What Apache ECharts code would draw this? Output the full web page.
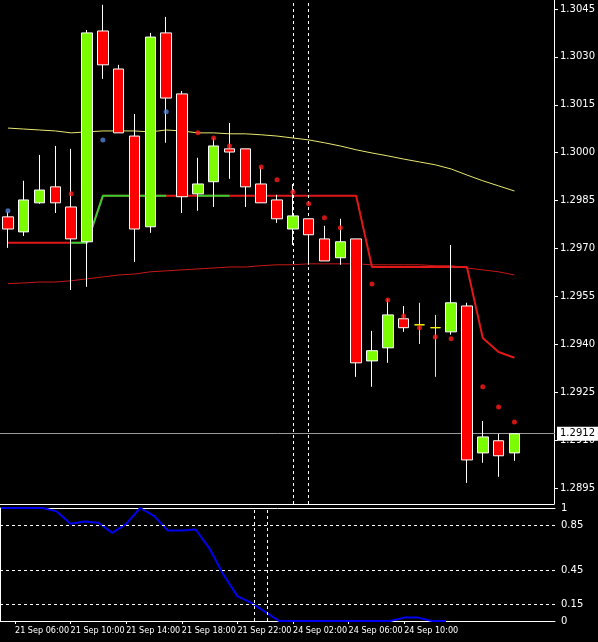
<!DOCTYPE html>
<html><head><meta charset="utf-8">
<script src="https://cdn.jsdelivr.net/npm/echarts@6/dist/echarts.min.js"></script>
<style>html,body{margin:0;padding:0;background:#000}#c{width:598px;height:642px}</style>
</head><body><div id="c"></div>
<script>
const categories = ['21 Sep 04:00','05:00','06:00','07:00','08:00','09:00','10:00','11:00','12:00','13:00','14:00','15:00','16:00','17:00','18:00','19:00','20:00','21:00','22:00','23:00','24 Sep 00:00','01:00','02:00','03:00','04:00','05:00','06:00','07:00','08:00','09:00','10:00','11:00','12:00','',''];
const open  = [1.29799,1.29752,1.29843,1.29893,1.29830,1.29721,1.30381,1.30262,1.30052,1.29768,1.30375,1.30184,1.29871,1.29909,1.30012,1.30012,1.29902,1.29852,1.29761,1.29793,1.29730,1.29671,1.29730,1.29348,1.29389,1.29480,1.29461,1.29452,1.29439,1.29520,1.29060,1.29098,1.29060];
const close = [1.29761,1.29852,1.29883,1.29843,1.29730,1.30375,1.30275,1.30062,1.29761,1.30362,1.30171,1.29862,1.29902,1.30021,1.30002,1.29893,1.29843,1.29793,1.29802,1.29743,1.29661,1.29721,1.29342,1.29380,1.29492,1.29452,1.29461,1.29452,1.29530,1.29038,1.29110,1.29051,1.29120];
const low   = [1.29702,1.29739,1.29840,1.29811,1.29570,1.29580,1.30231,1.30062,1.29658,1.29749,1.30031,1.29811,1.29818,1.29830,1.29918,1.29830,1.29843,1.29780,1.29711,1.29649,1.29661,1.29649,1.29298,1.29267,1.29342,1.29439,1.29401,1.29298,1.29430,1.28966,1.29029,1.28985,1.29035];
const high  = [1.29815,1.29912,1.29993,1.30021,1.30012,1.30384,1.30463,1.30275,1.30121,1.30375,1.30425,1.30193,1.29984,1.30046,1.30093,1.30012,1.29955,1.29868,1.29902,1.29793,1.29771,1.29793,1.29730,1.29442,1.29542,1.29520,1.29530,1.29492,1.29711,1.29530,1.29160,1.29120,1.29120];
const dojiIdx = [26,27];
const sarRed  = [null,null,null,null,1.29871,null,null,null,null,null,null,null,1.30062,1.30046,1.30021,null,1.29955,1.29915,1.29877,1.29840,1.29796,1.29765,null,1.29589,1.29539,1.29489,1.29452,1.29423,1.29417,null,1.29267,1.29204,1.29157];
const sarBlue = [1.29818,null,null,null,null,null,1.30040,null,null,null,1.30128,null,null,null,null,null,null,null,null,null,null,null,null,null,null,null,null,null,null,null,null,null,null];
const maSlow = [1.30077,1.30074,1.30071,1.30068,1.30062,1.30065,1.30068,1.30068,1.30068,1.30065,1.30071,1.30068,1.30062,1.30062,1.30059,1.30059,1.30056,1.30052,1.30046,1.30040,1.30031,1.30021,1.30009,1.29999,1.29990,1.29980,1.29971,1.29962,1.29949,1.29930,1.29912,1.29896,1.29880];
const maMid = [1.29590,1.29592,1.29595,1.29595,1.29599,1.29605,1.29611,1.29617,1.29620,1.29627,1.29630,1.29633,1.29636,1.29639,1.29642,1.29642,1.29646,1.29649,1.29649,1.29652,1.29652,1.29652,1.29652,1.29649,1.29649,1.29649,1.29649,1.29646,1.29646,1.29639,1.29633,1.29627,1.29617];
const stepRed = [1.29718,1.29718,1.29718,1.29718,1.29718,1.29718,1.29865,1.29865,1.29865,1.29865,1.29865,1.29865,1.29865,1.29865,1.29865,1.29865,1.29865,1.29865,1.29865,1.29865,1.29865,1.29865,1.29865,1.29642,1.29642,1.29642,1.29642,1.29642,1.29642,1.29642,1.29420,1.29376,1.29358];
const stepGreen = [null,null,null,null,1.29718,1.29718,1.29865,1.29865,1.29865,1.29865,1.29865,null,1.29865,1.29865,1.29865,null,null,null,null,null,null,null,null,null,null,null,null,null,null,null,null,null,null];
const lastPrice = 1.2912;
const priceTicks = [1.3045,1.3030,1.3015,1.3000,1.2985,1.2970,1.2955,1.2940,1.2925,1.2910,1.2895];
const vLinesTop = [18,19];
const indHours = [5,6,7,8,9,10,11,12,13,14,15,16,17,18,19,20,21,22,23,24,25,26,27,28,29,30,31,32,33,34,35,36,37];
const indicator = [1,1,1,1,0.97,0.86,0.88,0.87,0.78,0.86,1.0,0.93,0.8,0.8,0.81,0.64,0.41,0.22,0.16,0.08,0,0,0,0,0,0,0,0,0,0.03,0.03,0,0];
const indTicks = [1,0.85,0.45,0.15,0];
const indLevels = [0.85,0.45,0.15];
const vLinesBottom = [23.19,24.12];
const timeTickHours = [6,10,14,18,22,26,30,34];
const timeTickLabels = ['21 Sep 06:00','21 Sep 10:00','21 Sep 14:00','21 Sep 18:00','21 Sep 22:00','24 Sep 02:00','24 Sep 06:00','24 Sep 10:00'];

const FONT = 'DejaVu Sans';
const candleData = open.map((o,i)=>{
  const v=[o,close[i],low[i],high[i]];
  return dojiIdx.includes(i)?{value:v,itemStyle:{color:'#ffff00',color0:'#ffff00',borderColor:'#ffff00',borderColor0:'#ffff00'}}:v;
});
const lastCat = categories.length-1;
const chart = echarts.init(document.getElementById('c'));
const dash = {color:'#ffffff',type:[3,3],width:1};
chart.setOption({
  animation:false, backgroundColor:'#000',
  grid:[{left:-5,right:43,top:0,height:504},{left:0,right:43,top:508,bottom:21}],
  xAxis:[
    {type:'category',gridIndex:0,data:categories,boundaryGap:true,axisLine:{show:true,lineStyle:{color:'#fff'}},axisTick:{show:false},axisLabel:{show:false},splitLine:{show:false}},
    {type:'value',gridIndex:1,min:6-15/13.9,max:6+540/13.9,axisLine:{show:true,lineStyle:{color:'#fff'}},
     axisTick:{show:true,customValues:timeTickHours,length:3,lineStyle:{color:'#fff'}},
     axisLabel:{customValues:timeTickHours,interval:0,color:'#fff',fontFamily:'DejaVu Sans Condensed',fontSize:9,align:'left',margin:5,hideOverlap:false,showMinLabel:true,showMaxLabel:true,
       formatter:v=>timeTickLabels[timeTickHours.indexOf(v)]||''},splitLine:{show:false}},
    {type:'value',gridIndex:1,position:'top',min:0,max:1,axisLine:{show:true,lineStyle:{color:'#fff'}},axisTick:{show:false},axisLabel:{show:false},splitLine:{show:false}}
  ],
  yAxis:[
    {type:'value',gridIndex:0,position:'right',min:1.28900,max:1.30478,axisLine:{show:true,lineStyle:{color:'#fff'}},
     axisTick:{show:true,customValues:priceTicks,length:4,lineStyle:{color:'#fff'}},
     axisLabel:{customValues:priceTicks,color:'#fff',fontFamily:FONT,fontSize:10,margin:6,formatter:v=>v.toFixed(4)},splitLine:{show:false}},
    {type:'value',gridIndex:1,position:'right',min:0,max:1,axisLine:{show:true,lineStyle:{color:'#fff'}},
     axisTick:{show:true,customValues:indTicks,length:3,lineStyle:{color:'#fff'}},
     axisLabel:{customValues:indTicks,color:'#fff',fontFamily:FONT,fontSize:10,margin:6,formatter:v=>String(v)},splitLine:{show:false}}
  ],
  series:[
    {type:'line',data:maMid,xAxisIndex:0,yAxisIndex:0,symbol:'none',lineStyle:{color:'#c81818',width:1},z:2,
     markLine:{silent:true,symbol:'none',animation:false,precision:5,data:[
        [{coord:[0,lastPrice],x:0},{coord:[lastCat,lastPrice],x:555,
         lineStyle:{color:'#9a9a9a',type:'solid',width:1},
         label:{show:true,position:'end',formatter:lastPrice.toFixed(4),color:'#000',backgroundColor:'#fff',fontFamily:FONT,fontSize:10,padding:[2,3],distance:2}}]]}},
    {type:'line',data:maSlow,xAxisIndex:0,yAxisIndex:0,symbol:'none',lineStyle:{color:'#e8e870',width:1},z:2},
    {type:'line',data:stepRed,xAxisIndex:0,yAxisIndex:0,symbol:'none',lineStyle:{color:'#e01818',width:2},z:3},
    {type:'line',data:stepGreen,xAxisIndex:0,yAxisIndex:0,symbol:'none',connectNulls:false,lineStyle:{color:'#30d030',width:2},z:3},
    {type:'candlestick',data:candleData,xAxisIndex:0,yAxisIndex:0,barWidth:11,z:5,
     itemStyle:{color:'#7cfc00',color0:'#ff0000',borderColor:'#ffffff',borderColor0:'#ffffff',borderWidth:1},
     markLine:{silent:true,symbol:'none',animation:false,data:vLinesTop.map(x=>({xAxis:x,lineStyle:dash,label:{show:false}}))}},
    {type:'scatter',data:sarRed,xAxisIndex:0,yAxisIndex:0,symbolSize:5,itemStyle:{color:'#ff1a1a'},z:6},
    {type:'scatter',data:sarBlue,xAxisIndex:0,yAxisIndex:0,symbolSize:5,itemStyle:{color:'#5080d8'},z:6},
    {type:'line',data:indHours.map((h,i)=>[h,indicator[i]]),xAxisIndex:1,yAxisIndex:1,symbol:'none',lineStyle:{color:'#0000f0',width:2},z:4,
     markLine:{silent:true,symbol:'none',animation:false,data:[
        ...indLevels.map(v=>({yAxis:v,lineStyle:dash,label:{show:false}})),
        ...vLinesBottom.map(x=>({xAxis:x,lineStyle:dash,label:{show:false}}))]}}
  ]
});
</script></body></html>
